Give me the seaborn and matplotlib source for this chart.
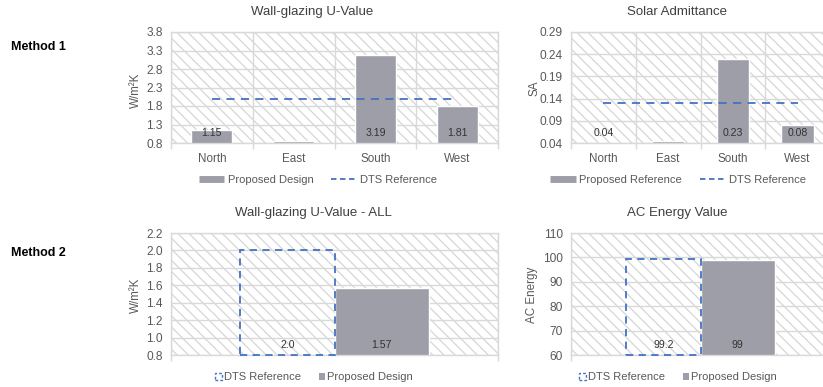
import numpy as np
import matplotlib
matplotlib.use("Agg")
import matplotlib.pyplot as plt
from matplotlib.lines import Line2D
from matplotlib.patches import Patch
import seaborn as sns

# ---- data -------------------------------------------------------------
orientations = ["North", "East", "South", "West"]

uvalue_proposed = [1.15, 0.85, 3.19, 1.81]
uvalue_labels = ["1.15", "", "3.19", "1.81"]
uvalue_dts = [2.0, 2.0, 2.0, 2.0]

sa_proposed = [0.04, 0.044, 0.23, 0.08]
sa_labels = ["0.04", "", "0.23", "0.08"]
sa_dts = [0.13, 0.13, 0.13, 0.13]

all_series = ["DTS Reference", "Proposed Design"]
uvalue_all = [2.0, 1.57]
uvalue_all_labels = ["2.0", "1.57"]
ac_energy = [99.2, 99]
ac_energy_labels = ["99.2", "99"]

# ---- style ------------------------------------------------------------
GREY = "#9d9ea8"
BLUE = "#4472c4"
GRID = "#d9d9d9"
HATCH = "#d6d6d6"
TEXT = "#595959"
TITLE = "#404040"

sns.set_theme(style="white")
plt.rcParams["font.family"] = ["Liberation Sans", "DejaVu Sans"]
plt.rcParams["hatch.linewidth"] = 0.9

W, H = 823, 387
fig = plt.figure(figsize=(W / 100, H / 100), dpi=100)


def px_axes(x0, y0, x1, y1):
    return fig.add_axes([x0 / W, 1 - y1 / H, (x1 - x0) / W, (y1 - y0) / H])


def style_axes(ax, ymin, ymax, step, fmt, ncat):
    ax.patch.set_facecolor("white")
    ax.patch.set_edgecolor(HATCH)
    ax.patch.set_linewidth(0)
    ax.patch.set_hatch("\\\\\\")
    ticks = np.arange(ymin, ymax + step / 2, step)
    ax.set_ylim(ymin, ymax)
    ax.set_yticks(ticks)
    ax.set_yticklabels([fmt.format(t) for t in ticks])
    ax.set_xlim(-0.5, ncat - 0.5)
    ax.set_xticks(np.arange(-0.5, ncat, 1.0), minor=True)
    ax.grid(axis="y", which="major", color=GRID, lw=1)
    ax.grid(axis="x", which="minor", color=GRID, lw=1)
    ax.grid(axis="x", which="major", visible=False)
    ax.set_axisbelow(True)
    for s in ax.spines.values():
        s.set_color(GRID)
        s.set_linewidth(1)
    ax.tick_params(axis="y", length=0, labelsize=8.6, labelcolor=TEXT, pad=6)
    ax.tick_params(axis="x", which="major", length=0, labelsize=8.4,
                   labelcolor=TEXT, pad=7)
    ax.tick_params(axis="x", which="minor", bottom=True, length=4,
                   color=GRID, width=1, direction="out")
    ax.set_xlabel("")
    ax.set_ylabel("")


def base_labels(ax, container, labels):
    for patch, lab in zip(container.patches, labels):
        if not lab:
            continue
        xc = patch.get_x() + patch.get_width() / 2
        ax.annotate(lab, xy=(xc, ax.get_ylim()[0]), xytext=(0, 7),
                    textcoords="offset points", ha="center", va="center",
                    fontsize=7.6, color="#333333")


# ---- Method 1: per orientation ---------------------------------------
def orientation_chart(ax, values, labels, dts, ymin, ymax, step, fmt):
    sns.barplot(x=orientations, y=values, color=GREY, saturation=1,
                width=0.5, ax=ax, zorder=2)
    sns.lineplot(x=np.arange(len(orientations)), y=dts, color=BLUE,
                 lw=1.3, ax=ax, zorder=3)
    ax.lines[-1].set_linestyle((0, (4.5, 3.5)))
    style_axes(ax, ymin, ymax, step, fmt, len(orientations))
    base_labels(ax, ax.containers[0], labels)


ax1 = px_axes(171, 32, 498, 143)
orientation_chart(ax1, uvalue_proposed, uvalue_labels, uvalue_dts,
                  0.8, 3.8, 0.5, "{:.1f}")
ax2 = px_axes(571, 32, 830, 143)
orientation_chart(ax2, sa_proposed, sa_labels, sa_dts,
                  0.04, 0.29, 0.05, "{:.2f}")


# ---- Method 2: whole-building comparison ------------------------------
def total_chart(ax, values, labels, ymin, ymax, step, fmt):
    sns.barplot(x=["ALL"] * len(values), y=values, hue=all_series,
                palette=[BLUE, GREY], saturation=1, width=0.575,
                legend=False, ax=ax, zorder=2)
    style_axes(ax, ymin, ymax, step, fmt, 1)
    ax.set_xticklabels([])
    dts_bar = ax.containers[0].patches[0]
    dts_bar.set_facecolor("none")
    dts_bar.set_edgecolor(BLUE)
    dts_bar.set_linewidth(1.3)
    dts_bar.set_linestyle((0, (4, 3)))
    dts_bar.set_y(ymin)
    dts_bar.set_height(values[0] - ymin)
    dts_bar.set_clip_on(False)
    dts_bar.set_zorder(3)
    for cont, lab in zip(ax.containers, labels):
        base_labels(ax, cont, [lab])


ax3 = px_axes(171, 233, 498, 355)
total_chart(ax3, uvalue_all, uvalue_all_labels, 0.8, 2.2, 0.2, "{:.1f}")
ax4 = px_axes(571, 233, 830, 355)
total_chart(ax4, ac_energy, ac_energy_labels, 60, 110, 10, "{:.0f}")

# ---- titles, axis names, row headers ----------------------------------
for txt, x, y in [("Wall-glazing U-Value", 312, 12),
                  ("Solar Admittance", 677, 12),
                  ("Wall-glazing U-Value - ALL", 313, 213),
                  ("AC Energy Value", 677, 213)]:
    fig.text(x / W, 1 - y / H, txt, ha="center", va="center",
             fontsize=9.5, color=TITLE)

for txt, x, y in [("W/m²K", 136, 90), ("SA", 534, 88),
                  ("W/m²K", 136, 295), ("AC Energy", 532, 295)]:
    fig.text(x / W, 1 - y / H, txt, ha="center", va="center",
             rotation=90, fontsize=8.4, color=TEXT)

for txt, y in [("Method 1", 47), ("Method 2", 253)]:
    fig.text(11 / W, 1 - y / H, txt, ha="left", va="center",
             fontsize=9, fontweight="bold", color="black")

# ---- legends ------------------------------------------------------------
bar_handle = Line2D([], [], color=GREY, lw=5, solid_capstyle="butt")
line_handle = Line2D([], [], color=BLUE, lw=1.3, ls=(0, (3, 2)))
for labels, cx in [(["Proposed Design", "DTS Reference"], 318),
                   (["Proposed Reference", "DTS Reference"], 678)]:
    fig.legend([bar_handle, line_handle], labels, loc="center",
               bbox_to_anchor=(cx / W, 1 - 180 / H), ncol=2, frameon=False,
               fontsize=8, labelcolor=TEXT, handlelength=2.3,
               handletextpad=0.3, columnspacing=1.6)

box_handle = Patch(facecolor="none", edgecolor=BLUE, lw=1.0, ls=(0, (2, 1.5)))
square_handle = Patch(facecolor=GREY, edgecolor="none")
for cx in [314, 678]:
    fig.legend([box_handle, square_handle], all_series, loc="center",
               bbox_to_anchor=(cx / W, 1 - 377 / H), ncol=2, frameon=False,
               fontsize=8, labelcolor=TEXT, handlelength=0.6,
               handleheight=0.6, handletextpad=0.2, columnspacing=1.6)

fig.savefig("out.png", dpi=100)
